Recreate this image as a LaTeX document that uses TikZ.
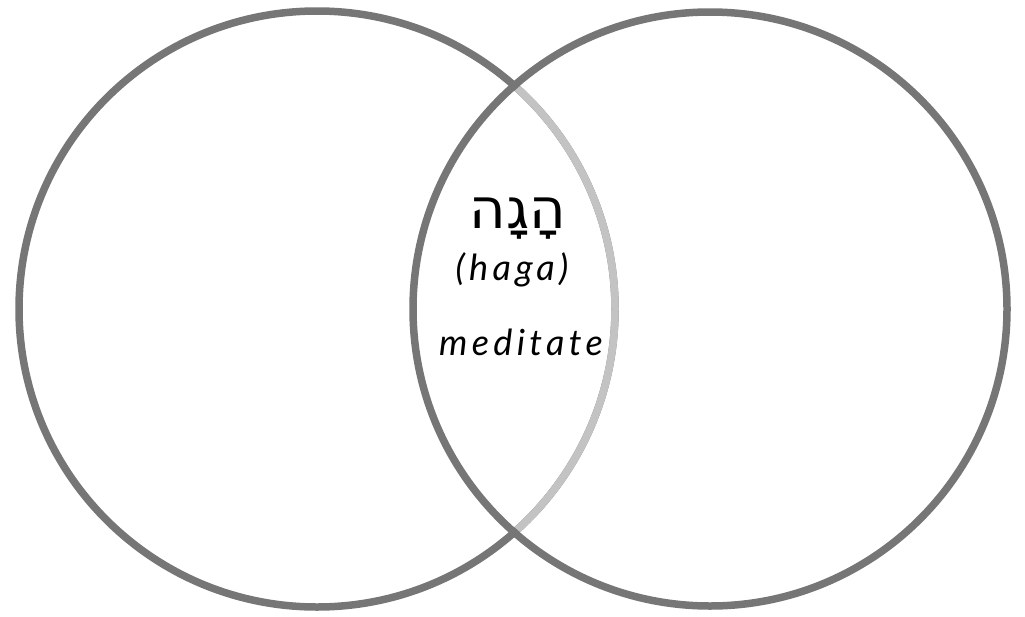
\documentclass[tikz,border=0pt]{standalone}
\usepackage{fontspec}
\setmainfont{Lato}
\newfontfamily\hebfont[Script=Hebrew]{DejaVu Sans}
\newfontfamily\latit[LetterSpace=12]{Lato Italic}
\TeXXeTstate=1
\definecolor{ring}{RGB}{118,118,118}
\definecolor{ringlight}{RGB}{195,195,195}
\tikzset{ringline/.style={line width=7.5pt,draw=ring},
         lightline/.style={line width=7.5pt,draw=ringlight},
         lbl/.style={anchor=base,inner sep=0pt,text=black}}
\begin{document}
\begin{tikzpicture}[x=1pt,y=-1pt]
\useasboundingbox (0,0) rectangle (1025,616);
\coordinate (cl) at (317,309);
\coordinate (cr) at (710,309);
% left circle, lighter where it lies inside the right one
\draw[ringline] (cl) circle [radius=298];
\begin{scope}
  \clip (cr) circle [radius=293];
  \draw[lightline] (cl) circle [radius=298];
\end{scope}
% right circle
\draw[ringline] (cr) circle [radius=297];
% texts
\node[lbl,font=\hebfont\fontsize{56}{58}\selectfont] (heb) at (518,228) {\beginR הָגָה\endR};
\node[lbl,font=\latit\fontsize{36}{40}\selectfont] (haga) at (512,280) {(haga)};
\node[lbl,font=\latit\fontsize{36}{40}\selectfont] (med) at (521,355) {meditate};
\end{tikzpicture}
\end{document}
